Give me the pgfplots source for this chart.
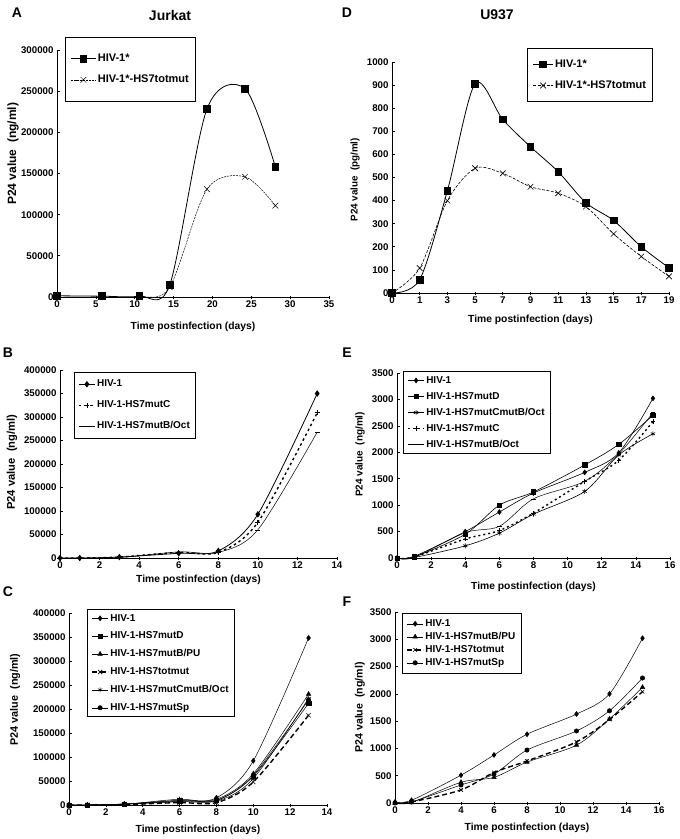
\documentclass[border=0pt]{standalone}
\usepackage{fontspec}
\setmainfont{Liberation Sans}
\usepackage{pgfplots}
\pgfplotsset{compat=1.18}

\newcommand\tickf{\fontsize{9.7}{11}\selectfont\bfseries}
\newcommand\labf{\fontsize{10.3}{12}\selectfont\bfseries}
\newcommand\legf{\fontsize{10}{12}\selectfont\bfseries}
\newcommand\legF{\fontsize{11}{13}\selectfont\bfseries}
\newcommand\titf{\fontsize{14}{16}\selectfont\bfseries}

\pgfplotsset{
  panel/.style={
    scale only axis, axis lines*=left,
    axis line style={line width=0.7pt, black},
    tick style={line width=0.7pt, black},
    major tick length=3pt,
    x tick style={/pgfplots/tick align=center},
    tick label style={font=\tickf},
    label style={font=\labf},
    scaled ticks=false,
    /pgf/number format/.cd, fixed, 1000 sep={}, assume math mode=true, /pgfplots/.cd,
    clip=false,
    legend cell align=left,
    legend style={font=\legf, draw=black, line width=0.7pt, fill=white,
      nodes={inner xsep=1.5pt, inner ysep=0pt, text height=7.5pt, text depth=2pt}},
  },
  legimg/.style 2 args={legend image code/.code={%
      \draw[mark repeat=2,mark phase=2,##1] plot coordinates {(0pt,0pt) (#2,0pt) (#1,0pt)};}},
  yl/.style n args={3}{ylabel style={at={(axis description cs:0,#2)}, anchor=center, rotate=0, yshift=#1,
      font=\fontsize{#3}{12}\selectfont\bfseries}},
  xl/.style={xlabel style={at={(axis description cs:0.5,0)}, anchor=center, yshift=-#1}},
}

\begin{document}
\begin{tikzpicture}
\path[use as bounding box] (0pt,0pt) rectangle (680pt,-839pt);

% ---------- titles and panel letters ----------
\node[font=\titf] at (17pt,-13pt) {A};
\node[font=\titf] at (170pt,-15pt) {Jurkat};
\node[font=\titf] at (347pt,-13pt) {D};
\node[font=\titf] at (497pt,-15pt) {U937};
\node[font=\titf] at (8pt,-353pt) {B};
\node[font=\titf] at (347pt,-353pt) {E};
\node[font=\titf] at (8pt,-592pt) {C};
\node[font=\titf] at (347pt,-602pt) {F};

% ---------- A ----------
\begin{axis}[panel, at={(57pt,-297pt)}, anchor=south west,
  width=272pt, height=247pt,
  xmin=0, xmax=35, ymin=0, ymax=300000,
  xtick={0,5,...,35}, ytick={0,50000,...,300000},
  xlabel={Time postinfection (days)}, ylabel={P24 value\ \ (ng/ml)},
  xl=30pt, yl={44pt}{0.58}{12},
  legimg={25pt}{12.5pt},
  legend style={font=\legF, nodes={text height=8pt}, at={(0.03,1.053)}, anchor=north west, row sep=11pt, inner xsep=5pt, inner ysep=16.5pt},
]
\addplot[black, line width=0.8pt, smooth, mark=square*, mark size=3.3pt, mark options={solid}]
  coordinates {(0,1500) (5.8,1000) (10.6,1000) (14.5,14500) (19.3,228500) (24.2,253000) (28.1,158000)};
\addlegendentry{HIV-1*}
\addplot[black, line width=0.5pt, smooth, dash pattern=on 2pt off 1pt, mark=x, mark size=4pt, mark options={solid}]
  coordinates {(0,0) (5.8,0) (10.6,0) (14.5,12000) (19.3,131000) (24.2,146000) (28.1,111000)};
\addlegendentry{HIV-1*-HS7totmut}
\end{axis}

% ---------- D ----------
\begin{axis}[panel, at={(392pt,-293pt)}, anchor=south west,
  width=277pt, height=231pt,
  xmin=0, xmax=10, ymin=0, ymax=1000,
  xtick={0,...,10}, xticklabels={0,1,3,5,7,9,11,13,15,17,19},
  ytick={0,100,...,1000},
  xlabel={Time postinfection (days)}, ylabel={P24 value\ \ (pg/ml)},
  xl=27pt, yl={37pt}{0.49}{9.8},
  legimg={20pt}{10pt},
  legend style={font=\legF, nodes={text height=8pt}, at={(0.942,1.06)}, anchor=north east, row sep=11pt, inner xsep=5pt, inner ysep=11pt},
]
\addplot[black, line width=0.8pt, smooth, mark=square*, mark size=3.3pt, mark options={solid}]
  coordinates {(0,0) (1,58) (2,443) (3,906) (4,751) (5,633) (6,525) (7,391) (8,314) (9,200) (10,109)};
\addlegendentry{HIV-1*}
\addplot[black, line width=0.6pt, smooth, dash pattern=on 3pt off 1.5pt, mark=x, mark size=4pt, mark options={solid}]
  coordinates {(0,0) (1,108) (2,400) (3,540) (4,518) (5,460) (6,432) (7,374) (8,256) (9,158) (10,72)};
\addlegendentry{HIV-1*-HS7totmut}
\end{axis}

% ---------- B ----------
\begin{axis}[panel, at={(60pt,-558pt)}, anchor=south west,
  width=277pt, height=188pt,
  xmin=0, xmax=14, ymin=0, ymax=400000,
  xtick={0,2,...,14}, ytick={0,50000,...,400000},
  xlabel={Time postinfection (days)}, ylabel={P24 value\ \ (ng/ml)},
  xl=22pt, yl={48pt}{0.51}{11.2},
  legimg={16pt}{8pt},
  legend style={at={(0.05,0.99)}, anchor=north west, row sep=11.5pt, inner xsep=4pt, inner ysep=7.25pt},
]
\addplot[black, line width=0.8pt, smooth, mark=diamond*, mark size=2.6pt]
  coordinates {(0,0) (1,0) (3,2000) (6,10000) (8,15000) (10,93000) (13,350000)};
\addlegendentry{HIV-1}
\addplot[black, line width=1.4pt, smooth, dash pattern=on 2.5pt off 3pt, mark=+, mark size=2.5pt, mark options={solid, line width=0.8pt}]
  coordinates {(0,0) (1,0) (3,2000) (6,12000) (8,12000) (10,76000) (13,309000)};
\addlegendentry{HIV-1-HS7mutC}
\addplot[black, line width=0.5pt, smooth, mark=-, mark size=2.5pt]
  coordinates {(0,0) (1,0) (3,1000) (6,13000) (8,12000) (10,60000) (13,268000)};
\addlegendentry{HIV-1-HS7mutB/Oct}
\end{axis}

% ---------- E ----------
\begin{axis}[panel, at={(397pt,-558pt)}, anchor=south west,
  width=273pt, height=185pt,
  xmin=0, xmax=16, ymin=0, ymax=3500,
  xtick={0,2,...,16}, ytick={0,500,...,3500},
  xlabel={Time postinfection (days)}, ylabel={P24 value\ \ (ng/ml)},
  xl=29pt, yl={37pt}{0.56}{10},
  legimg={16pt}{8pt},
  legend style={at={(0.022,1.01)}, anchor=north west, row sep=6.5pt, inner xsep=4pt, inner ysep=4.25pt},
]
\addplot[black, line width=0.6pt, smooth, mark=diamond*, mark size=2.4pt]
  coordinates {(0,0) (1,30) (4,500) (6,870) (8,1230) (11,1620) (13,1990) (15,3020)};
\addlegendentry{HIV-1}
\addplot[black, line width=0.6pt, smooth, mark=square*, mark size=2.2pt]
  coordinates {(0,0) (1,20) (4,450) (6,1000) (8,1250) (11,1760) (13,2150) (15,2700)};
\addlegendentry{HIV-1-HS7mutD}
\addplot[black, line width=0.6pt, smooth, mark=asterisk, mark size=2.5pt]
  coordinates {(0,0) (1,10) (4,230) (6,470) (8,830) (11,1260) (13,1950) (15,2350)};
\addlegendentry{HIV-1-HS7mutCmutB/Oct}
\addplot[black, line width=1.4pt, smooth, dash pattern=on 2pt off 3pt, mark=+, mark size=2.3pt, mark options={solid, line width=0.8pt}]
  coordinates {(0,0) (1,20) (4,360) (6,520) (8,850) (11,1450) (13,1850) (15,2580)};
\addlegendentry{HIV-1-HS7mutC}
\addplot[black, line width=0.5pt, smooth, mark=-, mark size=2.3pt]
  coordinates {(0,0) (1,10) (4,480) (6,600) (8,1120) (11,1450) (13,1970) (15,2750)};
\addlegendentry{HIV-1-HS7mutB/Oct}
\end{axis}

% ---------- C ----------
\begin{axis}[panel, at={(69pt,-805pt)}, anchor=south west,
  width=258pt, height=192pt,
  xmin=0, xmax=14, ymin=0, ymax=400000,
  xtick={0,2,...,14}, ytick={0,50000,...,400000},
  xlabel={Time postinfection (days)}, ylabel={P24 value\ \ (ng/ml)},
  xl=25pt, yl={54pt}{0.55}{10.8},
  legimg={16pt}{8pt},
  legend style={at={(0.07,1.02)}, anchor=north west, row sep=8.4pt, inner xsep=4pt, inner ysep=4pt},
]
\addplot[black, line width=0.5pt, smooth, mark=diamond*, mark size=2.5pt]
  coordinates {(0,0) (1,0) (3,2000) (6,8000) (8,15000) (10,92000) (13,348000)};
\addlegendentry{HIV-1}
\addplot[black, line width=0.5pt, smooth, mark=square*, mark size=2.2pt]
  coordinates {(0,0) (1,0) (3,2000) (6,9000) (8,10000) (10,60000) (13,212000)};
\addlegendentry{HIV-1-HS7mutD}
\addplot[black, line width=0.5pt, smooth, mark=triangle*, mark size=2.6pt]
  coordinates {(0,0) (1,0) (3,2000) (6,10000) (8,12000) (10,65000) (13,231000)};
\addlegendentry{HIV-1-HS7mutB/PU}
\addplot[black, line width=1.4pt, smooth, dash pattern=on 5pt off 3pt, mark=x, mark size=3pt, mark options={solid, line width=0.6pt}]
  coordinates {(0,0) (1,0) (3,1000) (6,5000) (8,5000) (10,48000) (13,187000)};
\addlegendentry{HIV-1-HS7totmut}
\addplot[black, line width=0.5pt, smooth, mark=asterisk, mark size=2.6pt]
  coordinates {(0,0) (1,0) (3,1500) (6,12000) (8,8000) (10,55000) (13,222000)};
\addlegendentry{HIV-1-HS7mutCmutB/Oct}
\addplot[black, line width=0.5pt, smooth, mark=*, mark size=2.2pt]
  coordinates {(0,0) (1,0) (3,1500) (6,7000) (8,9000) (10,62000) (13,219000)};
\addlegendentry{HIV-1-HS7mutSp}
\end{axis}

% ---------- F ----------
\begin{axis}[panel, at={(395pt,-803pt)}, anchor=south west,
  width=264pt, height=191pt,
  xmin=0, xmax=16, ymin=0, ymax=3500,
  xtick={0,2,...,16}, ytick={0,500,...,3500},
  xlabel={Time postinfection (days)}, ylabel={P24 value\ \ (ng/ml)},
  xl=25pt, yl={35pt}{0.5}{10.6},
  legimg={16pt}{8pt},
  legend style={at={(0.027,0.995)}, anchor=north west, row sep=3.5pt, inner xsep=4pt, inner ysep=5.75pt},
]
\addplot[black, line width=0.5pt, smooth, mark=diamond*, mark size=2.5pt]
  coordinates {(0,20) (1,50) (4,510) (6,880) (8,1260) (11,1630) (13,2000) (15,3020)};
\addlegendentry{HIV-1}
\addplot[black, line width=0.5pt, smooth, mark=triangle*, mark size=2.6pt]
  coordinates {(0,0) (1,10) (4,380) (6,470) (8,750) (11,1060) (13,1540) (15,2120)};
\addlegendentry{HIV-1-HS7mutB/PU}
\addplot[black, line width=1.4pt, smooth, dash pattern=on 5pt off 3pt, mark=x, mark size=2.6pt, mark options={solid, line width=0.6pt}]
  coordinates {(0,0) (1,20) (4,240) (6,560) (8,770) (11,1120) (13,1530) (15,2040)};
\addlegendentry{HIV-1-HS7totmut}
\addplot[black, line width=0.5pt, smooth, mark=*, mark size=2.2pt]
  coordinates {(0,0) (1,20) (4,330) (6,530) (8,970) (11,1320) (13,1690) (15,2290)};
\addlegendentry{HIV-1-HS7mutSp}
\end{axis}
\end{tikzpicture}
\end{document}
